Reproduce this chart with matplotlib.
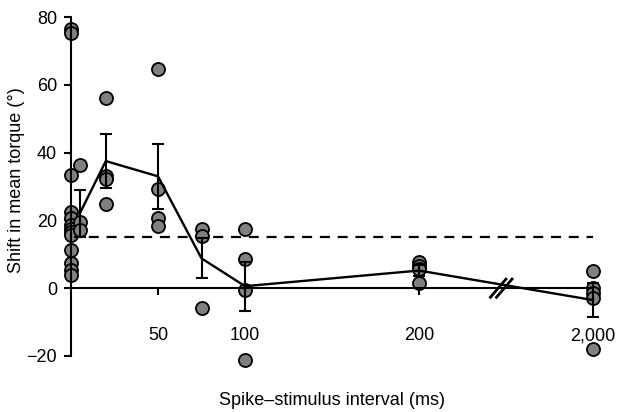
import matplotlib
matplotlib.use("Agg")
import matplotlib.pyplot as plt
import numpy as np

plt.rcParams['font.family'] = ['Liberation Sans', 'DejaVu Sans']

# Axis positions (2,000 ms drawn at pseudo-position 300 after an axis break)
tick_pos = [50, 100, 200, 300]
tick_labels = ['50', '100', '200', '2,000']
yticks = [-20, 0, 20, 40, 60, 80]

# Individual data points (x position, shift in mean torque)
pts_x0 = [0] * 13
pts_y0 = [76.4, 75.2, 33.4, 22.5, 20.6, 18.6, 17.6, 16.6, 15.6, 11.2, 7.3, 5.5, 3.8]
pts_x5 = [5, 5, 5]
pts_y5 = [36.3, 19.6, 17.1]
pts_x20 = [20, 20, 20, 20]
pts_y20 = [56.2, 33.0, 32.2, 24.7]
pts_x50 = [50, 50, 50, 50]
pts_y50 = [64.6, 29.3, 20.6, 18.3]
pts_x75 = [75, 75, 75]
pts_y75 = [17.6, 15.4, -5.7]
pts_x100 = [100, 100, 100, 100]
pts_y100 = [17.6, 8.5, -0.6, -21.3]
pts_x200 = [200, 200, 200, 200]
pts_y200 = [7.8, 6.6, 5.8, 1.4]
pts_x2000 = [300, 300, 300, 300, 300]
pts_y2000 = [5.2, 0.0, -1.5, -3.0, -18.0]

# Means and SEM
mean_x = [5, 20, 50, 75, 100, 200, 300]
mean_y = [22.0, 37.5, 33.0, 8.8, 0.6, 5.2, -3.5]
sem_y = [7.0, 7.9, 9.5, 5.9, 7.2, 1.5, 5.0]

threshold = 15

fig = plt.figure(figsize=(6.25, 4.12), dpi=100)
ax = fig.add_axes([71/625, 1-356/412, 522/625, 339/412])

all_x = pts_x0 + pts_x5 + pts_x20 + pts_x50 + pts_x75 + pts_x100 + pts_x200 + pts_x2000
all_y = pts_y0 + pts_y5 + pts_y20 + pts_y50 + pts_y75 + pts_y100 + pts_y200 + pts_y2000
ax.plot(all_x, all_y, 'o', ms=9.4, mfc='#808080', mec='black', mew=1.3,
        clip_on=False, zorder=2, ls='none')

ax.errorbar(mean_x, mean_y, yerr=sem_y, color='black', lw=1.7, capsize=4.5,
            capthick=1.5, elinewidth=1.5, zorder=3, clip_on=False)

ax.plot([0, 300], [threshold, threshold], color='black', lw=1.6,
        ls=(0, (4.5, 3.5)), zorder=1, clip_on=False)

# axis break marks
for cx in [245.5, 249.0]:
    ax.plot([cx - 5.0, cx + 5.0], [-3.0, 3.0], color='black', lw=2.0,
            zorder=4, clip_on=False, solid_capstyle='butt')

ax.set_xlim(0, 300)
ax.set_ylim(-20, 80)
ax.spines['top'].set_visible(False)
ax.spines['right'].set_visible(False)
ax.spines['bottom'].set_position(('data', 0))
for s in ['left', 'bottom']:
    ax.spines[s].set_linewidth(1.5)

ax.set_xticks(tick_pos)
ax.set_xticklabels(tick_labels)
ax.set_yticks(yticks)
ax.tick_params(axis='both', direction='out', length=5, width=1.5, labelsize=13)
ax.tick_params(axis='x', pad=23)
ax.tick_params(axis='y', pad=5)

ax.set_ylabel('Shift in mean torque (°)', fontsize=13)
ax.yaxis.set_label_coords(-0.088, 0.52)
ax.set_xlabel('Spike–stimulus interval (ms)', fontsize=13)
ax.xaxis.set_label_coords(0.5, -0.105)

fig.savefig('out.png', dpi=100)
